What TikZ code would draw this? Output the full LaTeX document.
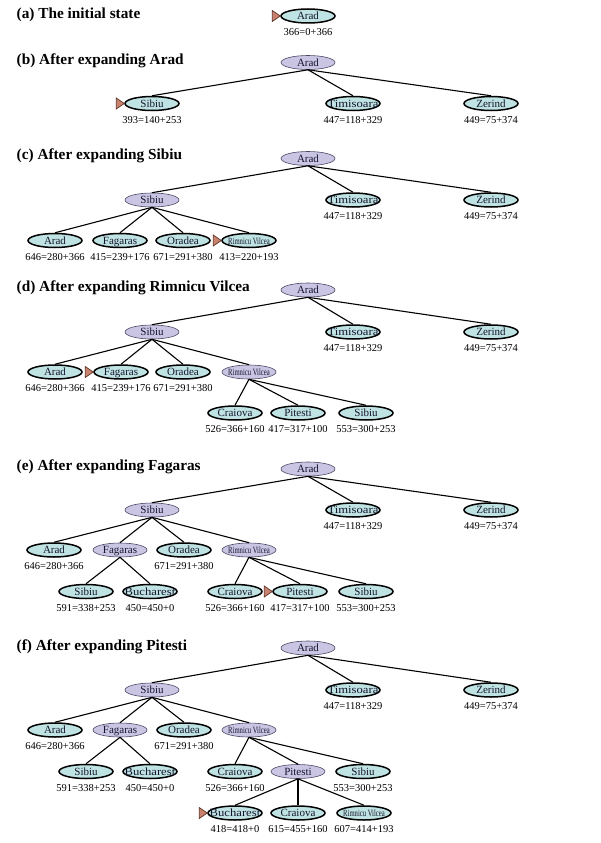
\documentclass[tikz,border=0pt]{standalone}
\usepackage{graphicx}
\usepackage{fontspec}
\setmainfont{Liberation Serif}
\usetikzlibrary{shapes.geometric}

\definecolor{frontier}{HTML}{BFE2E2}
\definecolor{expanded}{HTML}{C9C5E3}
\definecolor{exline}{HTML}{4A4A66}
\definecolor{ptrfill}{HTML}{C8826E}
\definecolor{ptrline}{HTML}{5E3426}
\definecolor{ink}{HTML}{15152E}

\newcommand\ndfont{\fontsize{11}{12}\selectfont}
\newcommand\cstfont{\fontsize{10.5}{12}\selectfont}
\newcommand\ttlfont{\fontsize{15.3}{18}\selectfont\bfseries}
\newcommand\rvname{\scalebox{0.7}[1]{\fontsize{9.5}{10}\selectfont Rimnicu Vilcea}}
\newcommand\wide[1]{\scalebox{1.15}[1]{#1}}

% frontier node with its f = g + h line underneath
\newcommand\frn[4]{%
  \node[fr] (#1) at (#2) {\makebox[0pt]{#3}};
  \node[cost] (#1-c) at ([yshift=-5pt]#1.south) {#4};}
% expanded (interior) node
\newcommand\exn[3]{\node[ex] (#1) at (#2) {\makebox[0pt]{#3}};}
% marker for the node chosen next
\newcommand\pick[1]{\draw[pointer] (#1.west) -- ++(-8,-5.5) -- ++(0,11) -- cycle;}

\tikzset{
  x=1pt, y=-1pt,
  nd/.style={ellipse, minimum width=54pt, minimum height=14pt, inner sep=0pt,
    text height=7.6pt, text depth=0pt, font=\ndfont, text=ink},
  fr/.style={nd, draw=black, line width=1.5pt, fill=frontier},
  ex/.style={nd, draw=exline, line width=0.6pt, fill=expanded},
  cost/.style={anchor=north, inner sep=0pt, font=\cstfont, text=black},
  ttl/.style={anchor=west, inner sep=0pt, font=\ttlfont},
  edge/.style={line width=1.1pt},
  pointer/.style={fill=ptrfill, draw=ptrline, line width=0.7pt, line join=miter},
}

\begin{document}
\begin{tikzpicture}
\useasboundingbox (0,0) rectangle (601,843);

% ---------------- (a)
\node[ttl] (ta) at (16.5,15) {(a) The initial state};
\frn{a0}{308,16}{Arad}{366=0+366}
\pick{a0}

% ---------------- (b)
\node[ttl] (tb) at (16.5,61) {(b) After expanding Arad};
\exn{b0}{308,62.5}{Arad}
\frn{b1}{152,103.5}{Sibiu}{393=140+253}
\frn{b2}{353,103.5}{\wide{Timisoara}}{447=118+329}
\frn{b3}{491,103.5}{Zerind}{449=75+374}
\pick{b1}
\foreach \c in {b1,b2,b3} \draw[edge] (b0.south) -- (\c.north);

% ---------------- (c)
\node[ttl] (tc) at (16.5,156) {(c) After expanding Sibiu};
\exn{c0}{308,158.5}{Arad}
\exn{c1}{152,200}{Sibiu}
\frn{c2}{353,200}{\wide{Timisoara}}{447=118+329}
\frn{c3}{491,200}{Zerind}{449=75+374}
\frn{c4}{55,240.5}{Arad}{646=280+366}
\frn{c5}{120,240.5}{Fagaras}{415=239+176}
\frn{c6}{183,240.5}{Oradea}{671=291+380}
\frn{c7}{249,240.5}{\rvname}{413=220+193}
\pick{c7}
\foreach \c in {c1,c2,c3} \draw[edge] (c0.south) -- (\c.north);
\foreach \c in {c4,c5,c6,c7} \draw[edge] (c1.south) -- (\c.north);

% ---------------- (d)
\node[ttl] (td) at (16.5,287.5) {(d) After expanding Rimnicu Vilcea};
\exn{d0}{308,290}{Arad}
\exn{d1}{152,332}{Sibiu}
\frn{d2}{353,332}{\wide{Timisoara}}{447=118+329}
\frn{d3}{491,332}{Zerind}{449=75+374}
\frn{d4}{55,372}{Arad}{646=280+366}
\frn{d5}{121,372}{Fagaras}{415=239+176}
\frn{d6}{183,372}{Oradea}{671=291+380}
\exn{d7}{249,372}{\rvname}
\frn{d8}{235,413}{Craiova}{526=366+160}
\frn{d9}{298,413}{Pitesti}{417=317+100}
\frn{d10}{366,413}{Sibiu}{553=300+253}
\pick{d5}
\foreach \c in {d1,d2,d3} \draw[edge] (d0.south) -- (\c.north);
\foreach \c in {d4,d5,d6,d7} \draw[edge] (d1.south) -- (\c.north);
\foreach \c in {d8,d9,d10} \draw[edge] (d7.south) -- (\c.north);

% ---------------- (e)
\node[ttl] (te) at (16.5,467) {(e) After expanding Fagaras};
\exn{e0}{308,469}{Arad}
\exn{e1}{152,510}{Sibiu}
\frn{e2}{353,510}{\wide{Timisoara}}{447=118+329}
\frn{e3}{491,510}{Zerind}{449=75+374}
\frn{e4}{54,550}{Arad}{646=280+366}
\exn{e5}{120,550}{Fagaras}
\frn{e6}{184,550}{Oradea}{671=291+380}
\exn{e7}{249,550}{\rvname}
\frn{e8}{86,591.5}{Sibiu}{591=338+253}
\frn{e9}{150,591.5}{\wide{Bucharest}}{450=450+0}
\frn{e10}{235,591.5}{Craiova}{526=366+160}
\frn{e11}{300,591.5}{Pitesti}{417=317+100}
\frn{e12}{366,591.5}{Sibiu}{553=300+253}
\pick{e11}
\foreach \c in {e1,e2,e3} \draw[edge] (e0.south) -- (\c.north);
\foreach \c in {e4,e5,e6,e7} \draw[edge] (e1.south) -- (\c.north);
\foreach \c in {e8,e9} \draw[edge] (e5.south) -- (\c.north);
\foreach \c in {e10,e11,e12} \draw[edge] (e7.south) -- (\c.north);

% ---------------- (f)
\node[ttl] (tf) at (16.5,647) {(f) After expanding Pitesti};
\exn{f0}{308,648}{Arad}
\exn{f1}{152,690}{Sibiu}
\frn{f2}{353,690}{\wide{Timisoara}}{447=118+329}
\frn{f3}{491,690}{Zerind}{449=75+374}
\frn{f4}{55,730}{Arad}{646=280+366}
\exn{f5}{120,730}{Fagaras}
\frn{f6}{184,730}{Oradea}{671=291+380}
\exn{f7}{249,730}{\rvname}
\frn{f8}{86,771.5}{Sibiu}{591=338+253}
\frn{f9}{150,771.5}{\wide{Bucharest}}{450=450+0}
\frn{f10}{235,771.5}{Craiova}{526=366+160}
\exn{f11}{298,771.5}{Pitesti}
\frn{f12}{363,771.5}{Sibiu}{553=300+253}
\frn{f13}{235,813}{\wide{Bucharest}}{418=418+0}
\frn{f14}{298,813}{Craiova}{615=455+160}
\frn{f15}{364,813}{\rvname}{607=414+193}
\pick{f13}
\foreach \c in {f1,f2,f3} \draw[edge] (f0.south) -- (\c.north);
\foreach \c in {f4,f5,f6,f7} \draw[edge] (f1.south) -- (\c.north);
\foreach \c in {f8,f9} \draw[edge] (f5.south) -- (\c.north);
\foreach \c in {f10,f11,f12} \draw[edge] (f7.south) -- (\c.north);
\foreach \c in {f13,f14,f15} \draw[edge] (f11.south) -- (\c.north);
\end{tikzpicture}
\end{document}
